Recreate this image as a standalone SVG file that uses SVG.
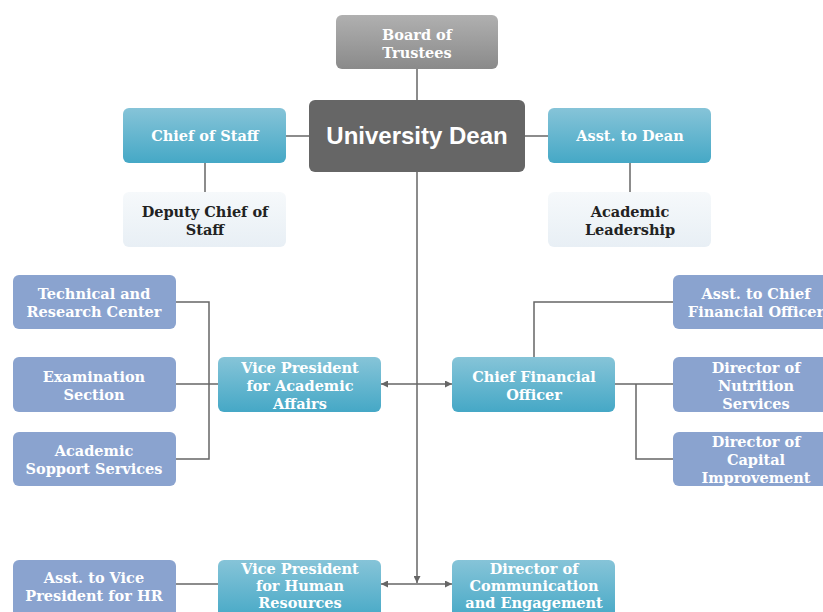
<svg xmlns="http://www.w3.org/2000/svg" width="823" height="612" viewBox="0 0 823 612">
<defs>
<linearGradient id="gTeal" x1="0" y1="0" x2="0" y2="1"><stop offset="0" stop-color="#86c4d8"/><stop offset="1" stop-color="#45a8c6"/></linearGradient>
<linearGradient id="gGray" x1="0" y1="0" x2="0" y2="1"><stop offset="0" stop-color="#b0b0b0"/><stop offset="1" stop-color="#8a8a8a"/></linearGradient>
<linearGradient id="gLight" x1="0" y1="0" x2="0" y2="1"><stop offset="0" stop-color="#f6f9fb"/><stop offset="1" stop-color="#e8eff5"/></linearGradient>
<marker id="arr" viewBox="0 0 10 10" refX="10" refY="5" markerWidth="7" markerHeight="7" orient="auto-start-reverse" markerUnits="userSpaceOnUse"><path d="M0,0 L10,5 L0,10 z" fill="#666"/></marker>
</defs>
<style>
.teal{fill:url(#gTeal)}
.gray{fill:url(#gGray)}
.light{fill:url(#gLight)}
.blue{fill:#8aa3cf}
.t{font-family:"DejaVu Serif","Liberation Serif",serif;font-weight:bold;font-size:14.5px;text-anchor:middle;fill:#ffffff}
.d{fill:#222222}
.big{font-family:"Liberation Sans",Arial,sans-serif;font-weight:bold;font-size:24px;text-anchor:middle;fill:#ffffff}
.c{fill:none;stroke:#666;stroke-width:1.5}
</style>
<rect width="823" height="612" fill="#ffffff"/>
<g id="connectors">
<path class="c" d="M417,69 V100"/>
<path class="c" d="M286,136 H309"/>
<path class="c" d="M525,136 H548"/>
<path class="c" d="M205,163 V192"/>
<path class="c" d="M630,163 V192"/>
<path class="c" d="M417,172 V583" marker-end="url(#arr)"/>
<path class="c" d="M176,302 H209 V459 H176"/>
<path class="c" d="M176,384 H218"/>
<path class="c" d="M381,384 H452" marker-start="url(#arr)" marker-end="url(#arr)"/>
<path class="c" d="M534,357 V302 H673"/>
<path class="c" d="M615,384 H673"/>
<path class="c" d="M636,384 V459 H673"/>
<path class="c" d="M176,584 H218"/>
<path class="c" d="M381,584 H452" marker-start="url(#arr)" marker-end="url(#arr)"/>
</g>
<g id="board"><rect class="gray" x="336" y="15" width="162" height="54" rx="6"/><text class="t" x="417" y="40">Board of</text><text class="t" x="417" y="58">Trustees</text></g>
<g id="dean"><rect fill="#666666" x="309" y="100" width="216" height="72" rx="6"/><text class="big" x="417" y="144">University Dean</text></g>
<g id="chief-of-staff"><rect class="teal" x="123" y="108" width="163" height="55" rx="6"/><text class="t" x="205" y="141">Chief of Staff</text></g>
<g id="asst-dean"><rect class="teal" x="548" y="108" width="163" height="55" rx="6"/><text class="t" x="630" y="141">Asst. to Dean</text></g>
<g id="deputy"><rect class="light" x="123" y="192" width="163" height="55" rx="6"/><text class="t d" x="205" y="217">Deputy Chief of</text><text class="t d" x="205" y="235">Staff</text></g>
<g id="acad-lead"><rect class="light" x="548" y="192" width="163" height="55" rx="6"/><text class="t d" x="630" y="217">Academic</text><text class="t d" x="630" y="235">Leadership</text></g>
<g id="tech"><rect class="blue" x="13" y="275" width="163" height="54" rx="6"/><text class="t" x="94" y="299">Technical and</text><text class="t" x="94" y="317">Research Center</text></g>
<g id="exam"><rect class="blue" x="13" y="357" width="163" height="55" rx="6"/><text class="t" x="94" y="382">Examination</text><text class="t" x="94" y="400">Section</text></g>
<g id="support"><rect class="blue" x="13" y="432" width="163" height="54" rx="6"/><text class="t" x="94" y="456">Academic</text><text class="t" x="94" y="474">Sopport Services</text></g>
<g id="vp-academic"><rect class="teal" x="218" y="357" width="163" height="55" rx="6"/><text class="t" x="300" y="373">Vice President</text><text class="t" x="300" y="391">for Academic</text><text class="t" x="300" y="409">Affairs</text></g>
<g id="cfo"><rect class="teal" x="452" y="357" width="163" height="55" rx="6"/><text class="t" x="534" y="382">Chief Financial</text><text class="t" x="534" y="400">Officer</text></g>
<g id="asst-cfo"><rect class="blue" x="673" y="275" width="170" height="54" rx="6"/><text class="t" x="756" y="299">Asst. to Chief</text><text class="t" x="756" y="317">Financial Officer</text></g>
<g id="nutrition"><rect class="blue" x="673" y="357" width="170" height="55" rx="6"/><text class="t" x="756" y="373">Director of</text><text class="t" x="756" y="391">Nutrition</text><text class="t" x="756" y="409">Services</text></g>
<g id="capital"><rect class="blue" x="673" y="432" width="170" height="54" rx="6"/><text class="t" x="756" y="447">Director of</text><text class="t" x="756" y="465">Capital</text><text class="t" x="756" y="483">Improvement</text></g>
<g id="asst-vp-hr"><rect class="blue" x="13" y="560" width="163" height="60" rx="6"/><text class="t" x="94" y="583">Asst. to Vice</text><text class="t" x="94" y="601">President for HR</text></g>
<g id="vp-hr"><rect class="teal" x="218" y="560" width="163" height="60" rx="6"/><text class="t" x="300" y="574">Vice President</text><text class="t" x="300" y="591">for Human</text><text class="t" x="300" y="608">Resources</text></g>
<g id="comm"><rect class="teal" x="452" y="560" width="163" height="60" rx="6"/><text class="t" x="534" y="574">Director of</text><text class="t" x="534" y="591">Communication</text><text class="t" x="534" y="608">and Engagement</text></g>
</svg>
